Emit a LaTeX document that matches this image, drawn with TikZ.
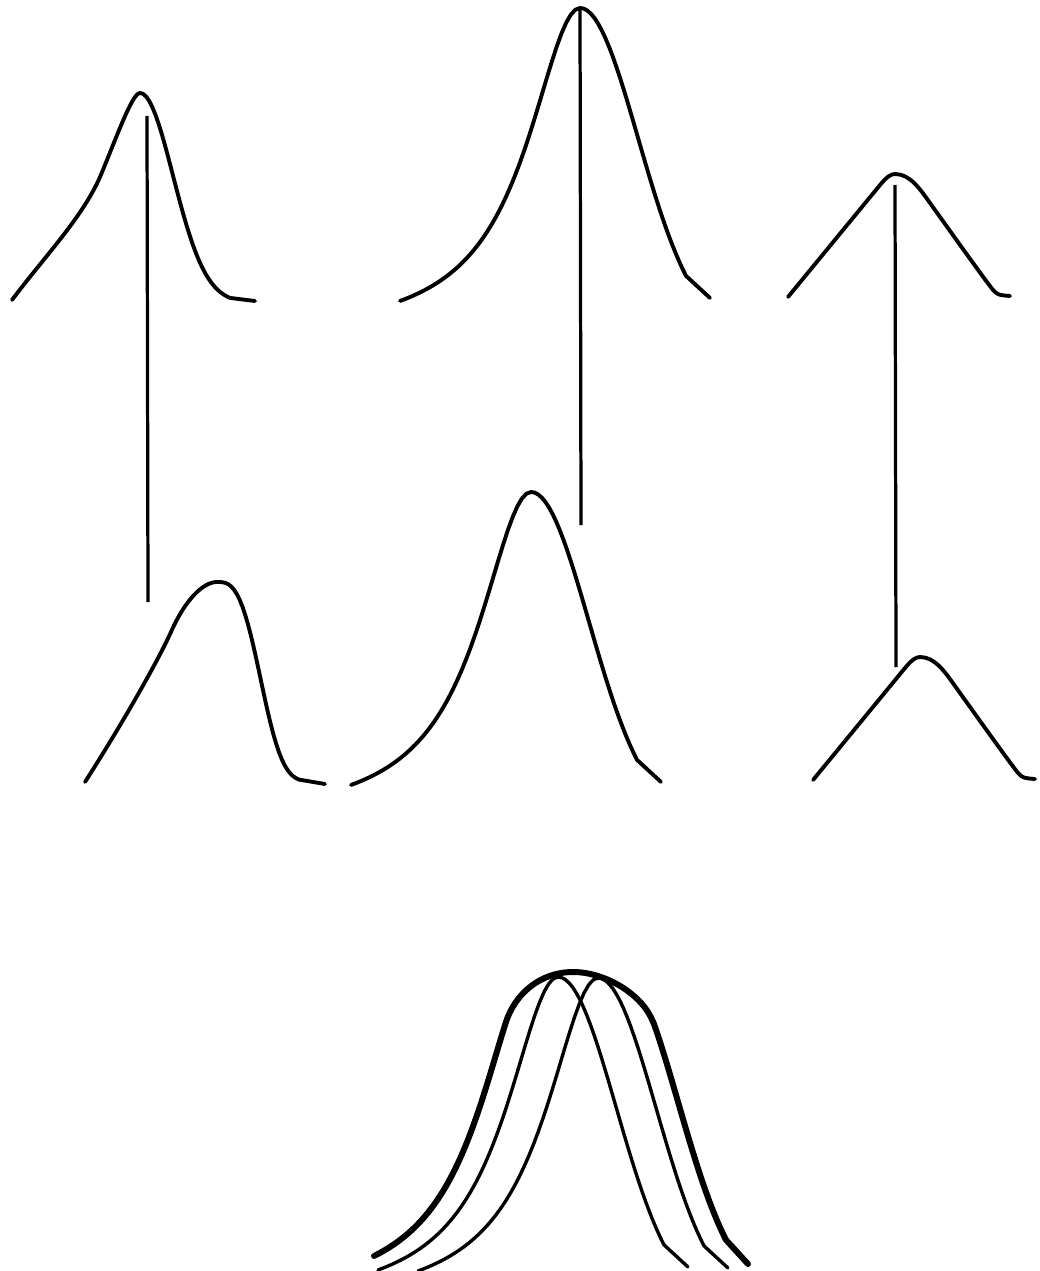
\documentclass[tikz,border=0pt]{standalone}
\usetikzlibrary{positioning}
% bells, drawn relative to their peak (y grows downward)
\newcommand\bellM{plot[domain=-180:0,samples=40] (\x,{lorL(\x)}) -- plot[domain=0:106,samples=30] (\x,{gauR(\x)}) -- (130,290)}
\newcommand\bellR{(-107,123) -- (-15,11) .. controls (-8,2.5) and (-4,0) .. (0,0) .. controls (15,0) and (25,15) .. (35,29) .. controls (55,57) and (90,106) .. (98,116) .. controls (103,121) .. (115,122)}
\begin{document}
\begin{tikzpicture}[x=0.05cm,y=-0.05cm,
  declare function={lorL(\x)=330*(\x/64)*(\x/64)/(1+(\x/64)*(\x/64));
                    gauR(\x)=330*(1-exp(-(\x/58)*(\x/58)/2));},
  curve/.style={line width=5.5pt,line cap=round,line join=round},
  thin/.style={line width=4.8pt,line cap=round,line join=round},
  envelope/.style={line width=8.5pt,line cap=round,line join=round},
  ridge/.style={line width=4.6pt}]
\useasboundingbox (0,0) rectangle (1040,1271);

% left pair
\draw[curve,shift={(140,93)}] (-128,207) .. controls (-95,163) and (-58,125) .. (-40,84) .. controls (-24,46) and (-8,0) .. (0,0)
  -- plot[domain=0:90,samples=30] (\x,{210*(1-exp(-(\x/33)*(\x/33)/2))}) -- (115,208);
\draw[curve,shift={(217,582)}] (-132,200) .. controls (-100,150) and (-62,85) .. (-46,50) .. controls (-32,18) and (-14,0) .. (0,0)
  -- plot[domain=0:82,samples=30] (\x,{200*(1-exp(-(\x/50)*(\x/50)*(\x/50)))}) -- (108,202);
\coordinate (lTop) at (147,116);
\coordinate (lBot) at (148,602);
\draw[ridge] (lTop) -- (lBot);

% middle pair
\draw[curve,shift={(580,8)}] \bellM;
\draw[curve,shift={(531,492)}] \bellM;
\coordinate (mTop) at (580,8);
\coordinate (mBot) at (581,525);
\draw[ridge] (mTop) -- (mBot);

% right pair
\draw[curve,shift={(895,174)}] \bellR;
\draw[curve,shift={(920,657)}] \bellR;
\coordinate (rTop) at (895,185);
\coordinate (rBot) at (896,667);
\draw[ridge] (rTop) -- (rBot);

% overlay
\draw[thin,shift={(558,977)}] \bellM;
\draw[thin,shift={(598,978)}] \bellM;
\draw[envelope] plot[domain=-159:-27.1,samples=40] ({533+\x},{972+lorL(\x)})
  .. controls (515,994) and (540,972) .. (573,972) .. controls (606,972) and (643,995) .. (653,1022)
  -- plot[domain=33:106,samples=30] ({620+\x},{972+gauR(\x)}) -- (748,1264);
\end{tikzpicture}
\end{document}
